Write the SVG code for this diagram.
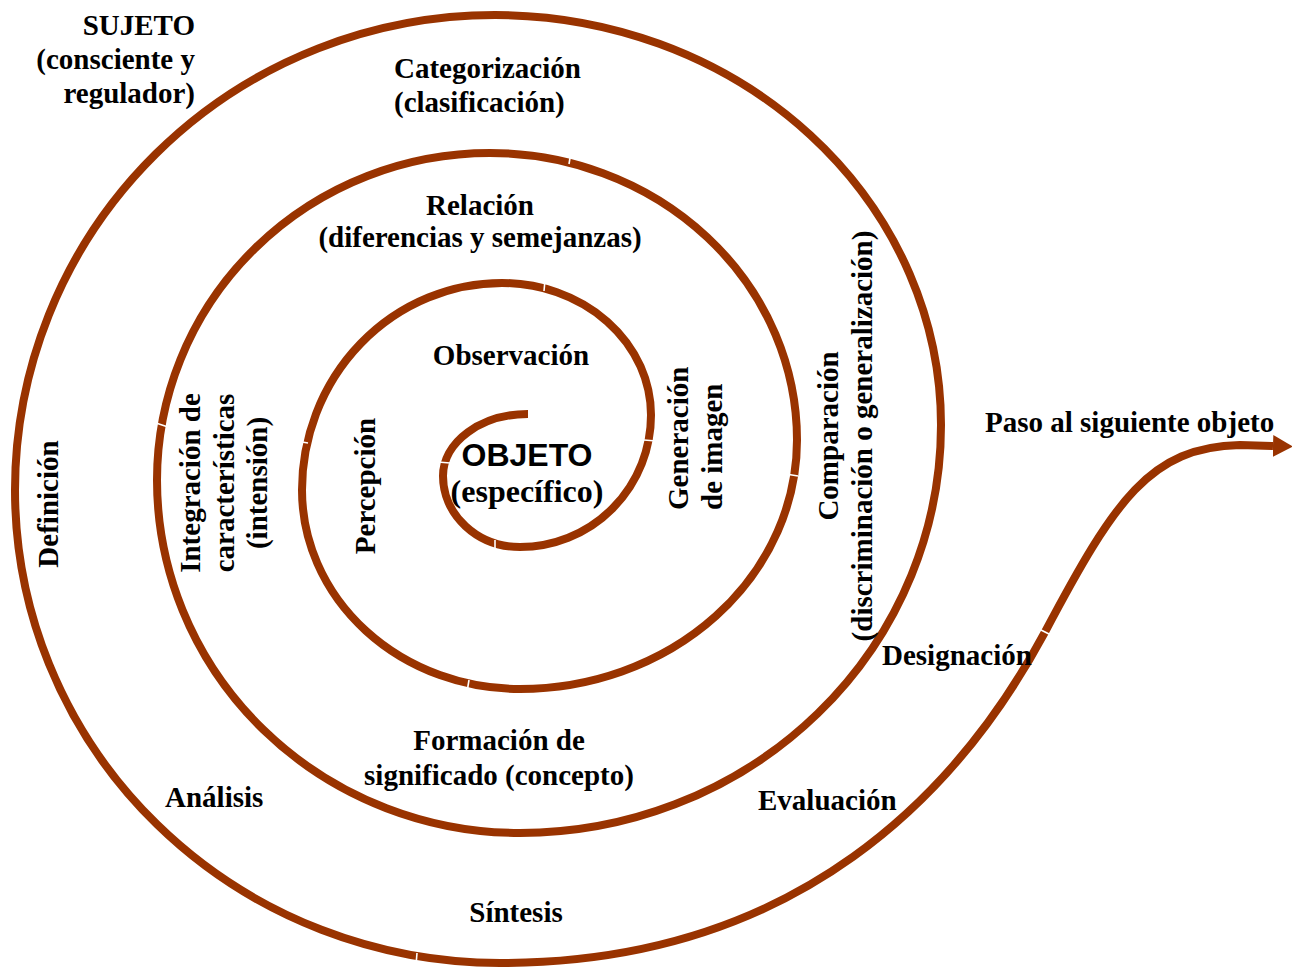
<svg xmlns="http://www.w3.org/2000/svg" width="1292" height="970" viewBox="0 0 1292 970">
  <style>
    .lbl { font-family: "Liberation Serif", "Times New Roman", serif; font-weight: bold; font-size: 29px; fill: #000; }
    .sans { font-family: "Liberation Sans", Arial, sans-serif; font-weight: bold; font-size: 32px; fill: #000; }
    .big { font-size: 32px; }
    .mid { text-anchor: middle; }
    .end { text-anchor: end; }
    .spiral { fill: none; stroke: #993300; stroke-width: 8; stroke-linecap: butt; stroke-linejoin: round; }
    .joint { stroke: #fff; stroke-width: 1.6; }
  </style>
  <defs>
    <marker id="head" viewBox="0 0 20 22" refX="0" refY="11" markerUnits="userSpaceOnUse" markerWidth="20" markerHeight="22" orient="auto">
      <path d="M0 0 L20 11 L0 22 Z" fill="#993300"/>
    </marker>
  </defs>

  <rect width="1292" height="970" fill="#fff"/>

  <!-- spiral: quarter-ellipse pieces winding outward, then the exit curve -->
  <g id="connectors">
    <path class="spiral" marker-end="url(#head)" d="M 528 414
      A 85 62 0 0 0 443 476
      A 77 71 0 0 0 520 547
      A 131 132 0 0 0 651 415
      A 149 132 0 0 0 502 283
      A 200 207 0 0 0 302 490
      A 218 199 0 0 0 520 689
      A 277 249 0 0 0 797 440
      A 307 287 0 0 0 490 153
      A 333 327 0 0 0 157 480
      A 363 353 0 0 0 520 833
      A 421 408 0 0 0 941 425
      A 446 410 0 0 0 495 15
      A 480 475 0 0 0 15 490
      A 485 473 0 0 0 500 963
      C 800 963 960 790 1045 632
      C 1115 500 1150 447 1240 445
      L 1273 446"/>
    <!-- seams between the arc pieces -->
    <g class="joint">
      <line x1="438" y1="462" x2="450" y2="463"/>
      <line x1="495" y1="540" x2="495" y2="551"/>
      <line x1="644" y1="440" x2="656" y2="441"/>
      <line x1="545" y1="280" x2="544" y2="291"/>
      <line x1="296" y1="441" x2="308" y2="443"/>
      <line x1="469" y1="680" x2="467" y2="692"/>
      <line x1="786" y1="474" x2="798" y2="476"/>
      <line x1="571" y1="152" x2="569" y2="164"/>
      <line x1="156" y1="423" x2="168" y2="427"/>
      <line x1="417" y1="953" x2="416" y2="965"/>
      <line x1="1039" y1="629" x2="1051" y2="635"/>
    </g>
  </g>

  <g id="sujeto">
    <text class="lbl end" x="195" y="35">SUJETO</text>
    <text class="lbl end" x="195" y="69">(consciente y</text>
    <text class="lbl end" x="195" y="103">regulador)</text>
  </g>

  <g id="categorizacion">
    <text class="lbl" x="394" y="78">Categorización</text>
    <text class="lbl" x="394" y="112">(clasificación)</text>
  </g>

  <g id="relacion">
    <text class="lbl mid" x="480" y="215">Relación</text>
    <text class="lbl mid" x="480" y="247">(diferencias y semejanzas)</text>
  </g>

  <g id="observacion">
    <text class="lbl mid" x="511" y="365">Observación</text>
  </g>

  <g id="objeto">
    <text class="sans mid" x="527" y="466">OBJETO</text>
    <text class="lbl big mid" x="527" y="502">(específico)</text>
  </g>

  <g id="percepcion">
    <text class="lbl mid" transform="translate(375 486) rotate(-90)">Percepción</text>
  </g>

  <g id="generacion">
    <text class="lbl" transform="translate(688 510) rotate(-90)">Generación</text>
    <text class="lbl" transform="translate(722 510) rotate(-90)">de imagen</text>
  </g>

  <g id="comparacion">
    <text class="lbl mid" transform="translate(838 436) rotate(-90)">Comparación</text>
    <text class="lbl mid" transform="translate(872 436) rotate(-90)">(discriminación o generalización)</text>
  </g>

  <g id="integracion">
    <text class="lbl mid" transform="translate(200 483) rotate(-90)">Integración de</text>
    <text class="lbl mid" transform="translate(234 483) rotate(-90)">características</text>
    <text class="lbl mid" transform="translate(267 483) rotate(-90)">(intensión)</text>
  </g>

  <g id="definicion">
    <text class="lbl mid" transform="translate(58 504) rotate(-90)">Definición</text>
  </g>

  <g id="formacion">
    <text class="lbl mid" x="499" y="750">Formación de</text>
    <text class="lbl mid" x="499" y="785">significado (concepto)</text>
  </g>

  <g id="analisis">
    <text class="lbl" x="165" y="807">Análisis</text>
  </g>

  <g id="sintesis">
    <text class="lbl mid" x="516" y="922">Síntesis</text>
  </g>

  <g id="evaluacion">
    <text class="lbl" x="758" y="810">Evaluación</text>
  </g>

  <g id="designacion">
    <text class="lbl" x="882" y="665">Designación</text>
  </g>

  <g id="paso">
    <text class="lbl" x="985" y="432">Paso al siguiente objeto</text>
  </g>
</svg>
